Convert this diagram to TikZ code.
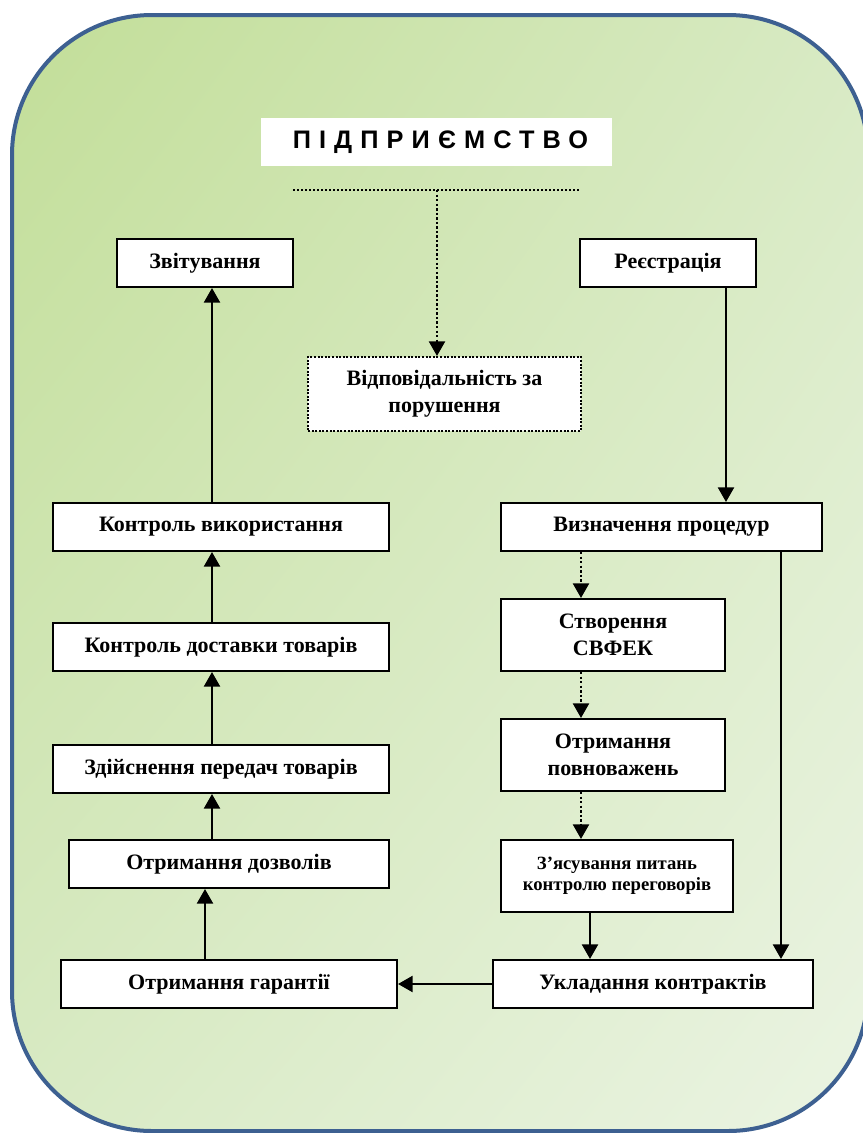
\documentclass[tikz,border=0pt]{standalone}
\usepackage{fontspec}
\setmainfont{Liberation Serif}
\newfontfamily\titlefont[LetterSpace=32, BoldFont={Liberation Sans Bold}]{Liberation Sans}
\usetikzlibrary{arrows.meta,shadings}
\definecolor{frameblue}{RGB}{61,96,145}
\definecolor{gA}{RGB}{194,222,152}
\definecolor{gB}{RGB}{216,234,196}
\definecolor{gC}{RGB}{235,244,227}
\begin{document}
\begin{tikzpicture}[x=0.75pt,y=-0.75pt,
  box/.style={draw=black, line width=1.5pt, fill=white, inner sep=0pt, align=center,
    font=\fontsize{16.5}{20}\selectfont\bfseries},
  smallbox/.style={box, font=\fontsize{14}{16}\selectfont\bfseries},
  dotbox/.style={box, dash pattern=on 1.5pt off 1.2pt},
  arr/.style={line width=1.8pt, -{Triangle[width=12pt,length=11pt]}},
  dotarr/.style={arr, dash pattern=on 1.8pt off 1.6pt},
  dotline/.style={line width=1.5pt, dash pattern=on 1.5pt off 1.5pt}]
\useasboundingbox (0,0) rectangle (863,1133);
\shade[rounded corners=105pt, upper left=gA, upper right=gB, lower left=gB, lower right=gC]
  (12,15) rectangle (868,1131);
\draw[frameblue, line width=3pt, rounded corners=105pt] (12,15) rectangle (868,1131);

% title
\node[fill=white, inner sep=0pt, minimum width=263.25pt, minimum height=36pt,
  font=\fontsize{19}{20}\selectfont\titlefont\bfseries] (title) at (436.5,142)
  {\hspace*{6pt}ПІДПРИЄМСТВО};

% boxes
\node[dotbox, minimum width=204.75pt, minimum height=55.5pt] (resp) at (444.5,394) {Відповідальність за\\порушення};
\node[box, minimum width=132pt, minimum height=36pt] (zvit) at (205,263) {Звітування};
\node[box, minimum width=132pt, minimum height=36pt] (reestr) at (668,263) {Реєстрація};
\node[box, minimum width=252pt, minimum height=36pt] (kv) at (221,527) {Контроль використання};
\node[box, minimum width=240.75pt, minimum height=36pt] (vp) at (661.5,527) {Визначення процедур};
\node[box, minimum width=252pt, minimum height=36pt] (kd) at (221,647) {Контроль доставки товарів};
\node[box, minimum width=168pt, minimum height=54pt] (svfek) at (613,635) {Створення\\СВФЕК};
\node[box, minimum width=252pt, minimum height=36pt] (zp) at (221,769) {Здійснення передач товарів};
\node[box, minimum width=168pt, minimum height=54pt] (pov) at (613,755) {Отримання\\повноважень};
\node[box, minimum width=240pt, minimum height=36pt] (dozv) at (229,864) {Отримання дозволів};
\node[smallbox, minimum width=174pt, minimum height=54pt] (zyas) at (617,876) {З’ясування питань\\контролю переговорів};
\node[box, minimum width=252pt, minimum height=36pt] (gar) at (229,984) {Отримання гарантії};
\node[box, minimum width=240pt, minimum height=36pt] (uklad) at (653,984) {Укладання контрактів};

% helper coordinates
\coordinate (hl) at (293,190);
\coordinate (hr) at (579,190);
\coordinate (hm) at (437,190);
\coordinate (xa) at (212,0);
\coordinate (xg) at (205,0);
\coordinate (xr) at (726,0);
\coordinate (xv) at (781,0);
\coordinate (xd) at (581,0);
\coordinate (xz) at (590,0);

% connectors
\draw[dotline] (hl) -- (hr);
\draw[dotarr] (hm) -- (resp.north -| hm);
\draw[arr] (kv.north -| xa) -- (zvit.south -| xa);
\draw[arr] (kd.north -| xa) -- (kv.south -| xa);
\draw[arr] (zp.north -| xa) -- (kd.south -| xa);
\draw[arr] (dozv.north -| xa) -- (zp.south -| xa);
\draw[arr] (gar.north -| xg) -- (dozv.south -| xg);
\draw[arr] (uklad.west) -- (gar.east);
\draw[arr] (reestr.south -| xr) -- (vp.north -| xr);
\draw[arr] (vp.south -| xv) -- (uklad.north -| xv);
\draw[dotarr] (vp.south -| xd) -- (svfek.north -| xd);
\draw[dotarr] (svfek.south -| xd) -- (pov.north -| xd);
\draw[dotarr] (pov.south -| xd) -- (zyas.north -| xd);
\draw[arr] (zyas.south -| xz) -- (uklad.north -| xz);
\end{tikzpicture}
\end{document}
